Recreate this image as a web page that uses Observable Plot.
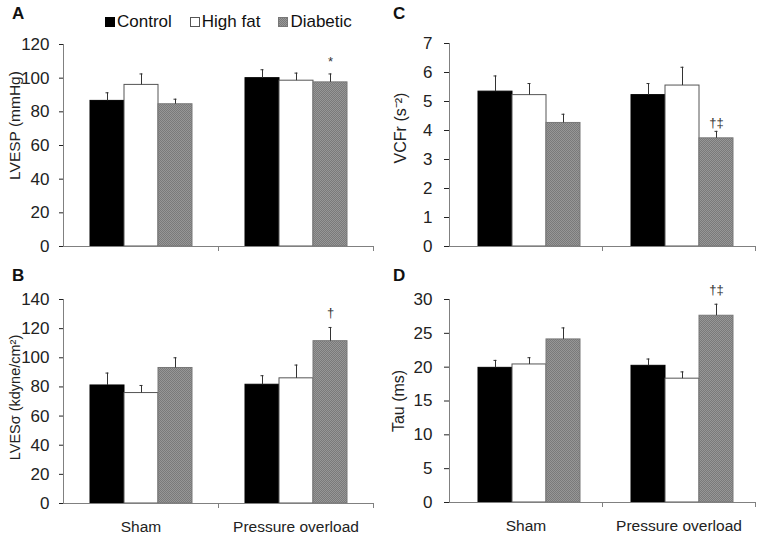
<!DOCTYPE html>
<html>
<head>
<meta charset="utf-8">
<script src="https://cdn.jsdelivr.net/npm/d3@7"></script>
<script src="https://cdn.jsdelivr.net/npm/@observablehq/plot@0.6"></script>
<style>
  body { margin: 0; background: #fff; }
  #fig { position: relative; width: 762px; height: 537px; overflow: hidden; font-family: "Liberation Sans", Arial, sans-serif; color: #111; }
  .panel { position: absolute; }
  .letter { position: absolute; font-weight: bold; font-size: 17px; line-height: 17px; }
  .legend { position: absolute; left: 105px; top: 12px; font-size: 17px; line-height: 20px; white-space: nowrap; }
  .legend .sw { display: inline-block; width: 10px; height: 10px; box-sizing: border-box; margin-right: 2px; vertical-align: 0px; }
  .legend .item { margin-right: 18px; }
</style>
</head>
<body>
<svg width="0" height="0" style="position:absolute">
  <defs>
    <pattern id="diab" width="2" height="2" patternUnits="userSpaceOnUse">
      <rect width="2" height="2" fill="#979797"></rect>
      <rect width="1" height="1" fill="#7a7a7a"></rect>
      <rect x="1" y="1" width="1" height="1" fill="#7a7a7a"></rect>
    </pattern>
  </defs>
</svg>
<div id="fig"></div>
<script>
// ---------- data ----------
const groups = ["Sham", "Pressure overload"];
const series = ["Control", "High fat", "Diabetic"];

// order: Sham (Control, High fat, Diabetic), Pressure overload (Control, High fat, Diabetic)
const lvespMean = [86.5, 96.0, 84.5, 100.0, 98.5, 97.5];
const lvespSem  = [4.8, 6.5, 3.0, 5.0, 4.5, 5.0];

const lvesMean = [81.0, 75.8, 93.0, 81.5, 85.9, 111.4];
const lvesSem  = [8.5, 5.2, 7.0, 6.2, 9.1, 9.4];

const vcfrMean = [5.34, 5.22, 4.26, 5.22, 5.55, 3.73];
const vcfrSem  = [0.54, 0.40, 0.30, 0.40, 0.63, 0.24];

const tauMean = [19.9, 20.4, 24.1, 20.2, 18.3, 27.6];
const tauSem  = [1.1, 1.0, 1.7, 1.0, 1.0, 1.7];

const ticksA = [0, 20, 40, 60, 80, 100, 120];
const ticksB = [0, 20, 40, 60, 80, 100, 120, 140];
const ticksC = [0, 1, 2, 3, 4, 5, 6, 7];
const ticksD = [0, 5, 10, 15, 20, 25, 30];

const labelA = "LVESP (mmHg)";
const labelB = "LVESσ (kdyne/cm²)";
const labelC = "VCFr (s⁻²)";
const labelD = "Tau (ms)";

// significance marks: [group, series, symbol]
const annA = [["Pressure overload", "Diabetic", "*"]];
const annB = [["Pressure overload", "Diabetic", "†"]];
const annC = [["Pressure overload", "Diabetic", "†‡"]];
const annD = [["Pressure overload", "Diabetic", "†‡"]];

// ---------- styles ----------
const fills = ["#000000", "#ffffff", "url(#diab)"];
const strokes = ["#000000", "#555555", "#777777"];
const FONT = "Liberation Sans, Arial, sans-serif";

function makeRows(means, sems) {
  const rows = [];
  groups.forEach((g, gi) => series.forEach((s, si) => {
    rows.push({group: g, series: s, mean: means[gi * 3 + si], sem: sems[gi * 3 + si]});
  }));
  return rows;
}

function panel(cfg) {
  const rows = makeRows(cfg.means, cfg.sems);
  const ann = cfg.ann.map(([g, s, t]) => {
    const r = rows.find(d => d.group === g && d.series === s);
    return {group: g, series: s, top: r.mean + r.sem, text: t};
  });
  const facetW = (cfg.width - cfg.ml - cfg.mr) / groups.length;
  const marks = [];
  series.forEach((s, i) => {
    marks.push(Plot.barY(rows.filter(d => d.series === s), {
      fx: "group", x: "series", y: "mean", fill: fills[i], stroke: strokes[i], strokeWidth: 1
    }));
  });
  marks.push(Plot.ruleX(rows, {fx: "group", x: "series", y1: "mean", y2: d => d.mean + d.sem, stroke: "#333", strokeWidth: 1}));
  marks.push(Plot.tickY(rows, {fx: "group", x: "series", y: d => d.mean + d.sem, stroke: "#333", strokeWidth: 1, insetLeft: 15.5, insetRight: 15.5}));
  marks.push(Plot.text(ann, {fx: "group", x: "series", y: "top", text: "text", dy: cfg.annDy, lineAnchor: "bottom", fontSize: 13, fill: "#333"}));
  marks.push(Plot.ruleY([0], {stroke: "#808080"}));
  marks.push(Plot.frame({anchor: "left", facetAnchor: "left", stroke: "#808080"}));
  marks.push(Plot.axisY({ticks: cfg.ticks, tickSize: cfg.tickSize, tickPadding: cfg.tickPadding, label: null, color: "#222", fontSize: 17, tickFormat: d => String(d)}));
  marks.push(Plot.axisFx({anchor: "bottom", tickSize: 5, tickFormat: () => "", label: null, dx: facetW / 2, color: "#808080"}));
  if (cfg.showGroups) {
    marks.push(Plot.axisFx({anchor: "bottom", tickSize: 0, tickPadding: 17, label: null, color: "#222", fontSize: 15.5}));
  }
  marks.push(Plot.text([cfg.ylabel], {frameAnchor: "left", textAnchor: "middle", lineAnchor: "middle", rotate: -90, dx: cfg.labelDx, dy: cfg.labelDy, facetAnchor: "left", fontSize: cfg.labelSize, fill: "#222"}));

  const chart = Plot.plot({
    width: cfg.width, height: cfg.height,
    marginTop: cfg.mt, marginBottom: cfg.mb, marginLeft: cfg.ml, marginRight: cfg.mr,
    style: {fontFamily: FONT, fontSize: "15.5px", background: "transparent", overflow: "visible"},
    fx: {domain: groups, padding: 0},
    x: {domain: series, paddingInner: 0, paddingOuter: 0.73, align: cfg.align, axis: null},
    y: {domain: cfg.domain},
    marks
  });
  const wrap = document.createElement("div");
  wrap.className = "panel";
  wrap.style.left = cfg.left + "px";
  wrap.style.top = cfg.top + "px";
  wrap.appendChild(chart);
  document.getElementById("fig").appendChild(wrap);
}

panel({means: lvespMean, sems: lvespSem, domain: [0, 120], ticks: ticksA, ylabel: labelA, ann: annA,
  left: 0, top: 0, width: 380, height: 260, mt: 44, mb: 14, ml: 63, mr: 7, align: 0.5,
  tickSize: 4, tickPadding: 10, labelDx: -48, labelDy: -20, labelSize: 15.5, annDy: -8, showGroups: false});
panel({means: vcfrMean, sems: vcfrSem, domain: [0, 7], ticks: ticksC, ylabel: labelC, ann: annC,
  left: 380, top: 0, width: 382, height: 260, mt: 43, mb: 14, ml: 69, mr: 7, align: 0.56,
  tickSize: 5, tickPadding: 12, labelDx: -49, labelDy: -17, labelSize: 16, annDy: -4, showGroups: false});
panel({means: lvesMean, sems: lvesSem, domain: [0, 140], ticks: ticksB, ylabel: labelB, ann: annB,
  left: 0, top: 260, width: 380, height: 277, mt: 39, mb: 34, ml: 63, mr: 7, align: 0.5,
  tickSize: 4, tickPadding: 10, labelDx: -48, labelDy: -4, labelSize: 14.5, annDy: -10, showGroups: true});
panel({means: tauMean, sems: tauSem, domain: [0, 30], ticks: ticksD, ylabel: labelD, ann: annD,
  left: 380, top: 260, width: 382, height: 277, mt: 39, mb: 35, ml: 69, mr: 7, align: 0.56,
  tickSize: 5, tickPadding: 12, labelDx: -51, labelDy: 0, labelSize: 16, annDy: -10, showGroups: true});

// panel letters
const fig = document.getElementById("fig");
[["A", 12, 5], ["C", 393, 5], ["B", 12, 267], ["D", 393, 267]].forEach(([t, x, y]) => {
  const d = document.createElement("div");
  d.className = "letter"; d.textContent = t;
  d.style.left = x + "px"; d.style.top = y + "px";
  fig.appendChild(d);
});

// legend
const swatchCss = [
  "background:#000;border:1px solid #000;",
  "background:#fff;border:1px solid #555;",
  "background:repeating-conic-gradient(#7a7a7a 0 25%, #979797 0 50%) 0 0/2px 2px;border:1px solid #777;"
];
const leg = document.createElement("div");
leg.className = "legend";
series.forEach((s, i) => {
  const item = document.createElement("span");
  item.className = "item";
  item.innerHTML = `<span class="sw" style="${swatchCss[i]}"></span>${s}`;
  leg.appendChild(item);
});
fig.appendChild(leg);
</script>
</body>
</html>
